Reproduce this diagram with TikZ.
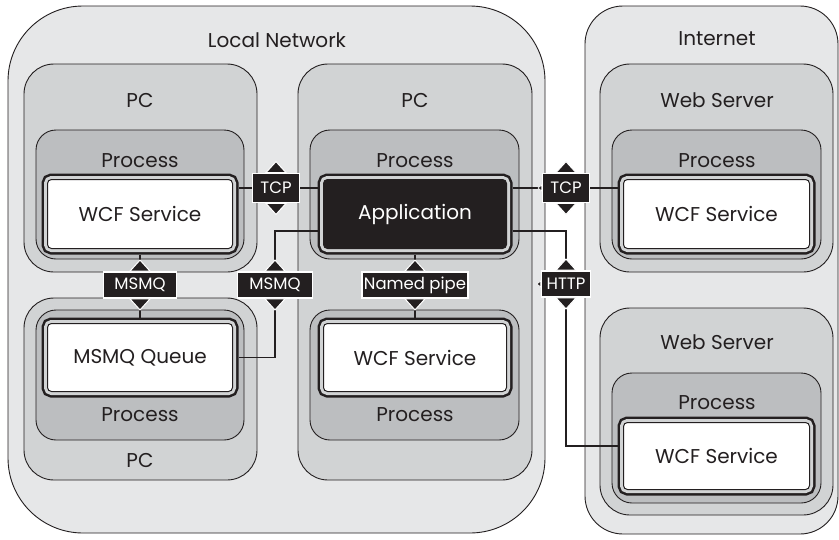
\documentclass[tikz,border=0pt]{standalone}
\usepackage{fontspec}
\setmainfont{Poppins}
\usetikzlibrary{fit}
\definecolor{ink}{HTML}{231F20}
\definecolor{netgray}{HTML}{E6E7E8}
\definecolor{pcgray}{HTML}{D1D3D4}
\definecolor{procgray}{HTML}{BCBEC0}

\begin{document}
\begin{tikzpicture}[
  x=1pt,y=-1pt,
  every node/.style={text=ink},
  zone/.style={draw=ink,line width=.9pt,fill=netgray,inner sep=0pt,rounded corners=#1},
  machine/.style={draw=ink,line width=.9pt,fill=pcgray,inner sep=0pt,rounded corners=30pt},
  proc/.style={draw=ink,line width=.9pt,fill=procgray,inner sep=0pt,rounded corners=20pt},
  comp/.style={draw=ink,line width=1pt,fill=white,rounded corners=4pt,
    minimum width=185pt,minimum height=69pt,outer sep=6pt,
    preaction={draw=ink,line width=12pt},preaction={draw=pcgray,line width=7pt},
    font=\fontsize{20}{24}\selectfont},
  title/.style={font=\fontsize{20}{24}\selectfont,inner sep=0pt},
  proto/.style={fill=ink,draw=white,line width=1.8pt,text=white,inner xsep=2pt,
    font=\fontsize{16.5}{19}\selectfont,minimum height=26pt},
  tip/.style={fill=ink,draw=white,line width=1pt},
  wire/.style={draw=ink,line width=1.8pt}
]
  \useasboundingbox[fill=white] (0,0) rectangle (839,539);

  % networks
  \node[zone=75pt,fit={(8,6) (545,533)}] (lan) {};
  \node[zone=38pt,fit={(585,6) (838,534)}] (inet) {};
  \node[title] (lanT) at (277,40) {Local Network};
  \node[title] (inetT) at (717,39) {Internet};

  % machines
  \node[machine,fit={(24,64) (257,272)}] (pcA) {};
  \node[machine,fit={(24,298) (257,480)}] (pcB) {};
  \node[machine,fit={(298,64) (532,480)}] (pcC) {};
  \node[machine,fit={(600,64) (833,272)}] (wsA) {};
  \node[machine,fit={(600,308) (833,515)}] (wsB) {};
  \node[title] (pcAT) at (140,100) {PC};
  \node[title] (pcBT) at (140,460) {PC};
  \node[title] (pcCT) at (415,100) {PC};
  \node[title] (wsAT) at (717,100) {Web Server};
  \node[title] (wsBT) at (717,342) {Web Server};

  % processes
  \node[proc,fit={(36,130) (244,259)}] (prA) {};
  \node[proc,fit={(36,310) (244,440)}] (prB) {};
  \node[proc,fit={(310,130) (519,259)}] (prC) {};
  \node[proc,fit={(310,310) (519,440)}] (prD) {};
  \node[proc,fit={(612,130) (821,259)}] (prE) {};
  \node[proc,fit={(612,373) (821,503)}] (prF) {};
  \node[title] (prAT) at (140,161) {Process};
  \node[title] (prBT) at (140,415) {Process};
  \node[title] (prCT) at (415,161) {Process};
  \node[title] (prDT) at (415,415) {Process};
  \node[title] (prET) at (717,161) {Process};
  \node[title] (prFT) at (717,403) {Process};

  % components
  \node[comp] (wcfA) at (140,214) {WCF Service};
  \node[comp,minimum height=68pt] (queue) at (140,357.5) {MSMQ Queue};
  \node[comp,fill=ink,text=white,minimum width=183pt] (app) at (415,214) {Application};
  \node[comp,minimum width=183pt,minimum height=68pt] (wcfC) at (415,357.5) {WCF Service};
  \node[comp,minimum width=186pt] (wcfD) at (716.5,214) {WCF Service};
  \node[comp,minimum width=186pt,minimum height=67pt] (wcfE) at (716.5,456) {WCF Service};

  % bindings
  \node[proto,minimum height=29pt,minimum width=47pt] (tcpA) at (276,188) {TCP};
  \node[proto,minimum height=29pt,minimum width=47pt] (tcpB) at (566,188) {TCP};
  \node[proto,minimum width=73pt] (msmqA) at (140,285) {MSMQ};
  \node[proto,minimum width=75pt] (msmqB) at (275,285) {MSMQ};
  \node[proto,minimum width=99pt] (pipe) at (415,285) {Named pipe};
  \node[proto,minimum width=49pt] (http) at (566,284) {HTTP};

  \draw[wire] (tcpA) -- (tcpA -| wcfA.east);
  \draw[wire] (tcpA) -- (tcpA -| app.west);
  \draw[wire] (tcpB) -- (tcpB -| app.east);
  \draw[wire] (tcpB) -- (tcpB -| wcfD.west);
  \draw[wire] (wcfA) -- (msmqA) -- (queue);
  \draw[wire] ([yshift=-17pt]app.west) -| (msmqB);
  \draw[wire] (msmqB) |- (queue);
  \draw[wire] (app) -- (pipe) -- (wcfC);
  \draw[wire] ([yshift=-17pt]app.east) -| (http);
  \draw[wire] (http) |- ([yshift=10pt]wcfE.west);

  \foreach \b in {tcpA,tcpB,msmqA,msmqB,pipe,http} {
    \filldraw[tip] ([xshift=-10pt]\b.north) -- ([xshift=10pt]\b.north) -- ([yshift=11pt]\b.north) -- cycle;
    \filldraw[tip] ([xshift=-10pt]\b.south) -- ([xshift=10pt]\b.south) -- ([yshift=-11pt]\b.south) -- cycle;
  }
  \foreach \b in {tcpB,http}
    \filldraw[tip,line width=.6pt] ([yshift=3pt]\b.west) -- ([xshift=-3.5pt]\b.west) -- ([yshift=-3pt]\b.west) -- cycle;
\end{tikzpicture}
\end{document}
